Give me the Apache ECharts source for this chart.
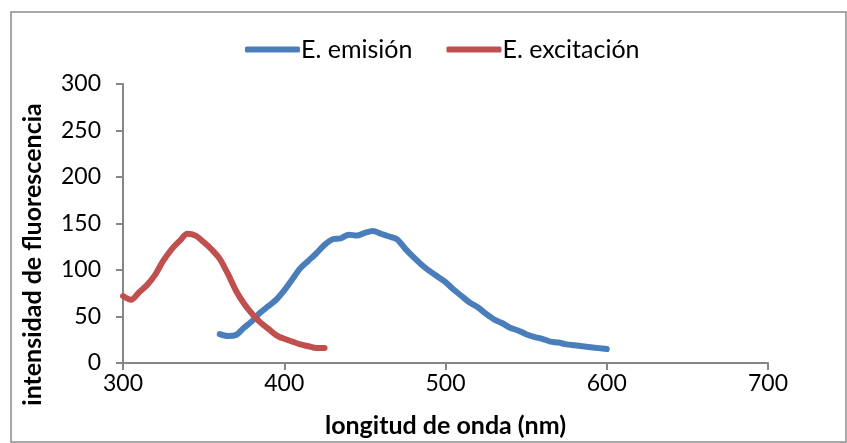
<!DOCTYPE html>
<html><head><meta charset="utf-8">
<script src="https://cdn.jsdelivr.net/npm/echarts@6/dist/echarts.min.js"></script>
<style>html,body{margin:0;padding:0;background:#fff}#c{width:847px;height:443px}</style>
</head><body><div id="c"></div>
<script>
const excX = [300,305,310,315,320,325,330,335,340,345,350,355,360,365,370,375,380,385,390,395,400,405,410,415,420,425];
const excY = [72,68,76,84,95,110,122,131,139,137,130,122,112,96,78,64,53,44,37,30,26,23,20,18,16,16];
const emiX = [360,365,370,375,380,385,390,395,400,405,410,415,420,425,430,435,440,445,450,455,460,465,470,475,480,485,490,495,500,505,510,515,520,525,530,535,540,545,550,555,560,565,570,575,580,585,590,595,600];
const emiY = [31,29,30,38,45,54,61,68,78,90,102,110,118,127,133,134,138,137,140,142,139,136,133,123,114,106,99,93,87,79,72,65,60,53,47,43,38,35,31,28,26,23,22,20,19,18,17,16,15];
const xTicks = [300,400,500,600,700];
const yTicks = [0,50,100,150,200,250,300];
const seriesNames = ['E. emisión','E. excitación'];
const xTitle = 'longitud de onda (nm)';
const yTitle = 'intensidad de fluorescencia';

const font = 'Lato';
const chart = echarts.init(document.getElementById('c'), null, {renderer:'canvas'});
const pair = (xs, ys) => xs.map((x,i)=>[x, ys[i]]);
chart.setOption({
  animation:false,
  graphic:[{type:'rect', shape:{x:11,y:12,width:835,height:430}, style:{fill:'none', stroke:'#8c8c8c', lineWidth:1.5}, silent:true}],
  legend:{
    top:32, left:240, itemWidth:55, itemHeight:6, itemGap:34,
    textStyle:{fontFamily:font, fontSize:25, color:'#000', padding:[0,0,0,-4]},
    data:seriesNames.map(n=>({name:n, icon:'roundRect'}))
  },
  grid:{left:123, right:79, top:84, bottom:79, containLabel:false},
  xAxis:{
    type:'value', min:xTicks[0], max:xTicks[xTicks.length-1], interval:100,
    name:xTitle, nameLocation:'middle', nameGap:50,
    nameTextStyle:{fontFamily:font, fontSize:25, fontWeight:'bold', color:'#000'},
    axisLine:{lineStyle:{color:'#868686', width:2}},
    axisTick:{show:true, length:7, lineStyle:{color:'#868686', width:2}},
    axisLabel:{fontFamily:font, fontSize:23, color:'#000', margin:9},
    splitLine:{show:false}
  },
  yAxis:{
    type:'value', min:yTicks[0], max:yTicks[yTicks.length-1], interval:50,
    name:yTitle, nameLocation:'middle', nameGap:78, nameRotate:90,
    nameTextStyle:{fontFamily:font, fontSize:25, fontWeight:'bold', color:'#000', padding:[0,62,0,0]},
    axisLine:{show:true, lineStyle:{color:'#868686', width:2}},
    axisTick:{show:true, length:7, lineStyle:{color:'#868686', width:2}},
    axisLabel:{fontFamily:font, fontSize:23, color:'#000', margin:22},
    splitLine:{show:false}
  },
  series:[
    {name:seriesNames[0], type:'line', data:pair(emiX, emiY), showSymbol:false, symbol:'none', smooth:0.3,
     lineStyle:{color:'#4a7ebb', width:6, cap:'round'}, itemStyle:{color:'#4a7ebb'}},
    {name:seriesNames[1], type:'line', data:pair(excX, excY), showSymbol:false, symbol:'none', smooth:0.3,
     lineStyle:{color:'#c0504d', width:6, cap:'round'}, itemStyle:{color:'#c0504d'}}
  ]
});
</script></body></html>
